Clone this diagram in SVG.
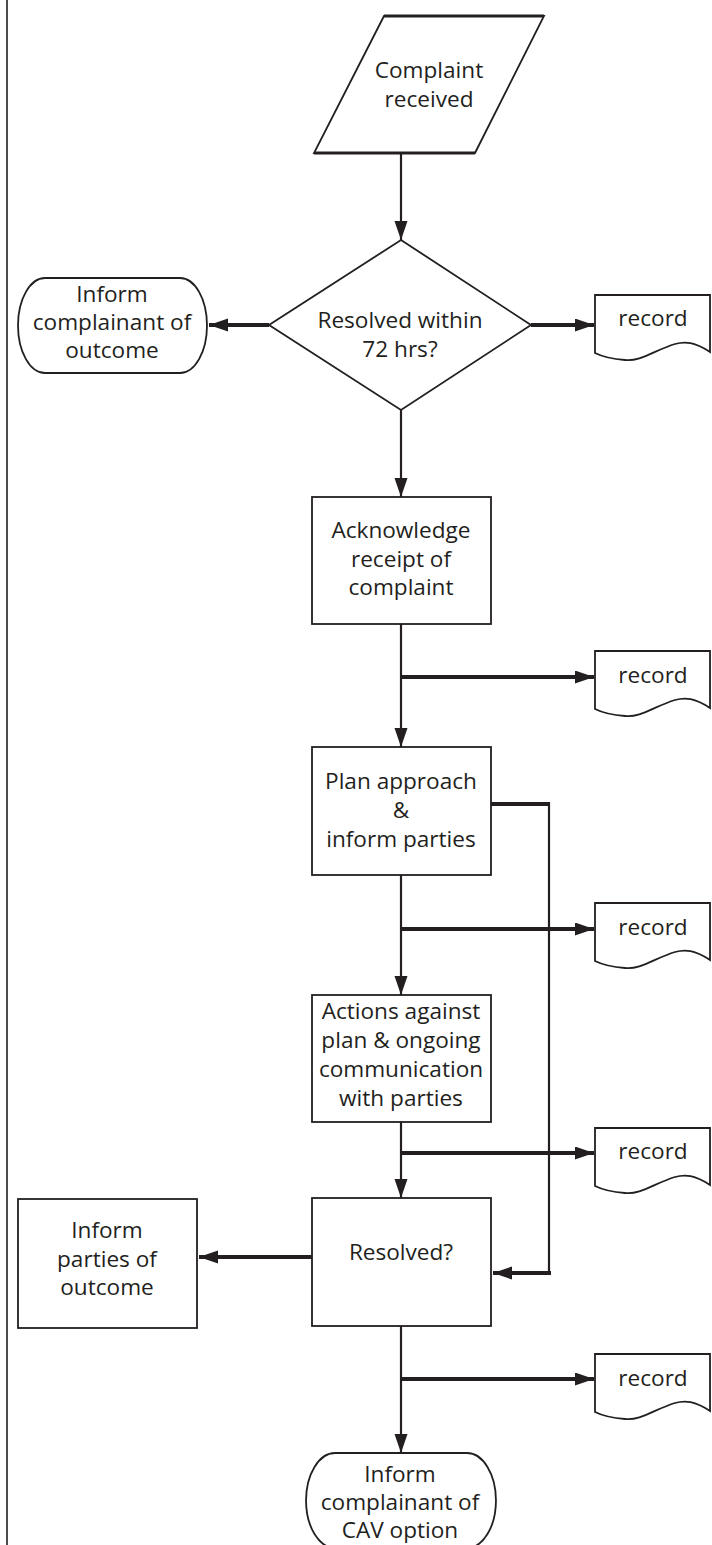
<svg xmlns="http://www.w3.org/2000/svg" xmlns:xlink="http://www.w3.org/1999/xlink" width="712" height="1545" viewBox="0 0 712 1545">
<style>
.s{fill:#fff;stroke:#231f20;stroke-width:1.8}
.t{font-family:"Open Sans","Liberation Sans",sans-serif;font-size:22.6px;fill:#231f20;text-anchor:middle}
.c{fill:none;stroke:#231f20;stroke-width:2.2}
.k{fill:none;stroke:#231f20;stroke-width:4}
</style>
<defs>
<marker id="a" markerUnits="userSpaceOnUse" markerWidth="20" markerHeight="14" refX="19" refY="6.5" orient="auto"><path d="M0,0 L19,6.5 L0,13 Z" fill="#231f20"/></marker>
<path id="rec" d="M0,0 H115 V57 C100,47 90,46 80,49 C60,55 45,67 30,65 C18,64 8,62 0,58 Z"/>
</defs>
<rect width="712" height="1545" fill="#fff"/>
<line x1="7" y1="0" x2="7" y2="1545" stroke="#231f20" stroke-width="1.6"/>
<g id="connectors">
<line class="c" x1="401" y1="153" x2="401" y2="240" marker-end="url(#a)"/>
<line class="c" x1="401" y1="410" x2="401" y2="497" marker-end="url(#a)"/>
<line class="c" x1="401" y1="624" x2="401" y2="747" marker-end="url(#a)"/>
<line class="c" x1="401" y1="875" x2="401" y2="995" marker-end="url(#a)"/>
<line class="c" x1="401" y1="1122" x2="401" y2="1198" marker-end="url(#a)"/>
<line class="c" x1="401" y1="1326" x2="401" y2="1453" marker-end="url(#a)"/>
<line class="k" x1="269" y1="325" x2="209" y2="325" marker-end="url(#a)"/>
<line class="k" x1="531" y1="325" x2="594" y2="325" marker-end="url(#a)"/>
<line class="k" x1="401" y1="677" x2="594" y2="677" marker-end="url(#a)"/>
<line class="k" x1="401" y1="929" x2="594" y2="929" marker-end="url(#a)"/>
<line class="k" x1="401" y1="1153" x2="594" y2="1153" marker-end="url(#a)"/>
<line class="k" x1="401" y1="1379" x2="594" y2="1379" marker-end="url(#a)"/>
<line class="k" x1="313" y1="1257" x2="199" y2="1257" marker-end="url(#a)"/>
<polyline class="k" points="491,804 549,804"/>
<line class="c" x1="549" y1="802" x2="549" y2="1275" stroke-width="2.6"/>
<line class="k" x1="551" y1="1273" x2="493" y2="1273" marker-end="url(#a)"/>
</g>
<g id="n-start">
<polygon class="s" points="384,16 544,16 475,153 314,153" stroke-width="1.5"/>
<line x1="384" y1="16" x2="544" y2="16" stroke="#231f20" stroke-width="3.2"/>
<line x1="314" y1="153" x2="475" y2="153" stroke="#231f20" stroke-width="3.2"/>
<text class="t" x="429" y="78">Complaint</text>
<text class="t" x="429" y="107">received</text>
</g>
<g id="n-decision">
<polygon class="s" points="401,240 531,325 401,410 269,325" stroke-width="1.5"/>
<text class="t" x="400" y="328">Resolved within</text>
<text class="t" x="400" y="357">72 hrs?</text>
</g>
<g id="n-inform1">
<path class="s" d="M45,278 H180 A27,47.5 0 0 1 180,373 H45 A27,47.5 0 0 1 45,278 Z" stroke-width="1.5"/>
<text class="t" x="112" y="302">Inform</text>
<text class="t" x="112" y="330">complainant of</text>
<text class="t" x="112" y="358">outcome</text>
</g>
<g id="n-record1"><use href="#rec" xlink:href="#rec" x="595" y="295" class="s" stroke-width="1.5"/><text class="t" x="653" y="326">record</text></g>
<g id="n-ack">
<rect class="s" x="312" y="497" width="179" height="127"/>
<text class="t" x="401" y="538">Acknowledge</text>
<text class="t" x="401" y="567">receipt of</text>
<text class="t" x="401" y="595">complaint</text>
</g>
<g id="n-record2"><use href="#rec" xlink:href="#rec" x="595" y="651" class="s" stroke-width="1.5"/><text class="t" x="653" y="683">record</text></g>
<g id="n-plan">
<rect class="s" x="312" y="747" width="179" height="128"/>
<text class="t" x="401" y="789">Plan approach</text>
<text class="t" x="401" y="818">&amp;</text>
<text class="t" x="401" y="847">inform parties</text>
</g>
<g id="n-record3"><use href="#rec" xlink:href="#rec" x="595" y="903" class="s" stroke-width="1.5"/><text class="t" x="653" y="935">record</text></g>
<g id="n-actions">
<rect class="s" x="312" y="995" width="179" height="127"/>
<text class="t" x="401" y="1019">Actions against</text>
<text class="t" x="401" y="1048">plan &amp; ongoing</text>
<text class="t" x="401" y="1077">communication</text>
<text class="t" x="401" y="1106">with parties</text>
</g>
<g id="n-record4"><use href="#rec" xlink:href="#rec" x="595" y="1128" class="s" stroke-width="1.5"/><text class="t" x="653" y="1159">record</text></g>
<g id="n-resolved">
<rect class="s" x="312" y="1198" width="179" height="128"/>
<text class="t" x="401" y="1260">Resolved?</text>
</g>
<g id="n-inform2">
<rect class="s" x="18" y="1199" width="179" height="129"/>
<text class="t" x="107" y="1238">Inform</text>
<text class="t" x="107" y="1267">parties of</text>
<text class="t" x="107" y="1295">outcome</text>
</g>
<g id="n-record5"><use href="#rec" xlink:href="#rec" x="595" y="1354" class="s" stroke-width="1.5"/><text class="t" x="653" y="1386">record</text></g>
<g id="n-cav">
<path class="s" d="M335,1453 H467 A29,47.5 0 0 1 467,1548 H335 A29,47.5 0 0 1 335,1453 Z" stroke-width="1.5"/>
<text class="t" x="400" y="1482">Inform</text>
<text class="t" x="400" y="1510">complainant of</text>
<text class="t" x="400" y="1538">CAV option</text>
</g>
</svg>
